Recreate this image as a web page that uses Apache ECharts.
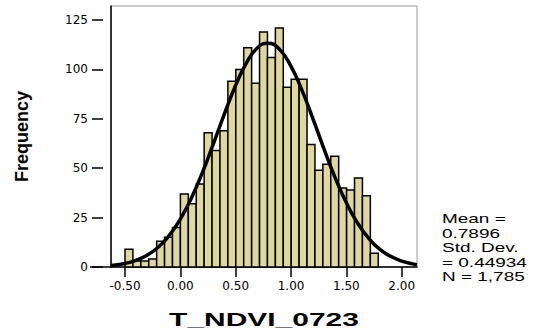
<!DOCTYPE html>
<html>
<head>
<meta charset="utf-8">
<script src="https://cdn.jsdelivr.net/npm/echarts@6/dist/echarts.min.js"></script>
<style>
html,body{margin:0;padding:0;background:#fff;}
#chart{width:534px;height:331px;}
</style>
</head>
<body>
<div id="chart"></div>
<script>
// ---- data ----
const binLow = [-0.500,-0.4285,-0.357,-0.2855,-0.214,-0.1425,-0.071,0.0005,0.072,0.1435,0.215,0.2865,0.358,0.4295,0.501,0.5725,0.644,0.7155,0.787,0.8585,0.930,1.0015,1.073,1.1445,1.216,1.2875,1.359,1.4305,1.502,1.5735,1.645,1.7165];
const binWidth = 0.0715;
const counts = [9,3,3,4,13,15,20,37,32,42,68,59,69,94,100,111,93,119,106,121,91,95,95,62,49,52,56,40,39,45,36,7];
const curveX = [-0.6265,-0.5,-0.4,-0.3,-0.2,-0.1,0.0,0.1,0.2,0.3,0.4,0.5,0.6,0.7,0.7896,0.9,1.0,1.1,1.2,1.3,1.4,1.5,1.6,1.7,1.8,1.9,2.0,2.1,2.138];
const curveY = [0.8,1.8,3.4,6.0,10.0,16.0,24.2,34.9,47.9,62.6,77.8,92.0,103.6,111.1,113.3,109.9,101.5,89.3,74.7,59.4,45.0,32.5,22.3,14.6,9.0,5.4,3.0,1.6,1.2];
const xTicks = [-0.5,0,0.5,1.0,1.5,2.0];
const xTickLabels = ['-0.50','0.00','0.50','1.00','1.50','2.00'];
const yTicks = [0,25,50,75,100,125];
const statsLines = ['Mean =','0.7896','Std. Dev.','= 0.44934','N = 1,785'];
const xTitle = 'T_NDVI_0723';
const yTitle = 'Frequency';

const barData = binLow.map((lo, i) => [lo, lo + binWidth, counts[i]]);
const curveData = curveX.map((x, i) => [x, curveY[i]]);

const chart = echarts.init(document.getElementById('chart'), null, {renderer: 'svg'});
const tickFont = 'DejaVu Sans';
chart.setOption({
  animation: false,
  backgroundColor: '#fff',
  grid: {left: 111, right: 117, top: 6, bottom: 64, show: true, borderColor: '#9a9a9a', borderWidth: 1, backgroundColor: '#fff'},
  xAxis: {
    type: 'value', min: -0.6265, max: 2.138,
    axisLine: {show: true, onZero: false, lineStyle: {color: '#000', width: 1.5}},
    axisTick: {show: true, customValues: xTicks, length: 10, lineStyle: {color: '#000', width: 1.5}},
    axisLabel: {show: true, customValues: xTicks, margin: 13, color: '#000', fontFamily: tickFont, fontSize: 12,
      formatter: v => xTickLabels[xTicks.findIndex(t => Math.abs(t - v) < 1e-6)]},
    splitLine: {show: false}
  },
  yAxis: [{
    type: 'value', min: 0, max: 132.1, position: 'left', offset: 8,
    axisLine: {show: false, onZero: false},
    axisTick: {show: true, customValues: yTicks, length: 11, lineStyle: {color: '#000', width: 1.5}},
    axisLabel: {show: true, customValues: yTicks, margin: 15, color: '#000', fontFamily: tickFont, fontSize: 12},
    splitLine: {show: false},
    name: yTitle, nameLocation: 'middle', nameGap: 72,
    nameTextStyle: {fontFamily: 'Liberation Sans', fontWeight: 'bold', fontSize: 18, color: '#000'}
  }, {
    type: 'value', min: 0, max: 132.1, position: 'left', offset: 0,
    axisLine: {show: true, onZero: false, lineStyle: {color: '#000', width: 1.5}},
    axisTick: {show: true, customValues: [0], length: 21, lineStyle: {color: '#000', width: 1.5}},
    axisLabel: {show: false},
    splitLine: {show: false}
  }],
  series: [{
    type: 'custom',
    data: barData,
    encode: {x: [0, 1], y: 2},
    renderItem: function (params, api) {
      const p0 = api.coord([api.value(0), api.value(2)]);
      const p1 = api.coord([api.value(1), 0]);
      return {type: 'rect', shape: {x: p0[0], y: p0[1], width: p1[0] - p0[0], height: p1[1] - p0[1]},
        style: {fill: '#DED79E', stroke: '#000', lineWidth: 1.5}};
    },
    z: 2
  }, {
    type: 'line', data: curveData, smooth: true, showSymbol: false, symbol: 'none',
    lineStyle: {color: '#000', width: 3.5}, z: 3
  }],
  graphic: [{
    type: 'text', x: 264, y: 319.5, scaleX: 1.62,
    style: {text: xTitle, font: 'bold 18.5px "Liberation Sans"', fill: '#000', textAlign: 'center', textVerticalAlign: 'middle', align: 'center', verticalAlign: 'middle'}
  }, {
    type: 'text', x: 442, y: 211.5, scaleX: 1.58,
    style: {text: statsLines.join('\n'), font: '12px "Liberation Sans"', lineHeight: 14.6, fill: '#000', textAlign: 'left', textVerticalAlign: 'top', align: 'left', verticalAlign: 'top'}
  }]
});
</script>
</body>
</html>
